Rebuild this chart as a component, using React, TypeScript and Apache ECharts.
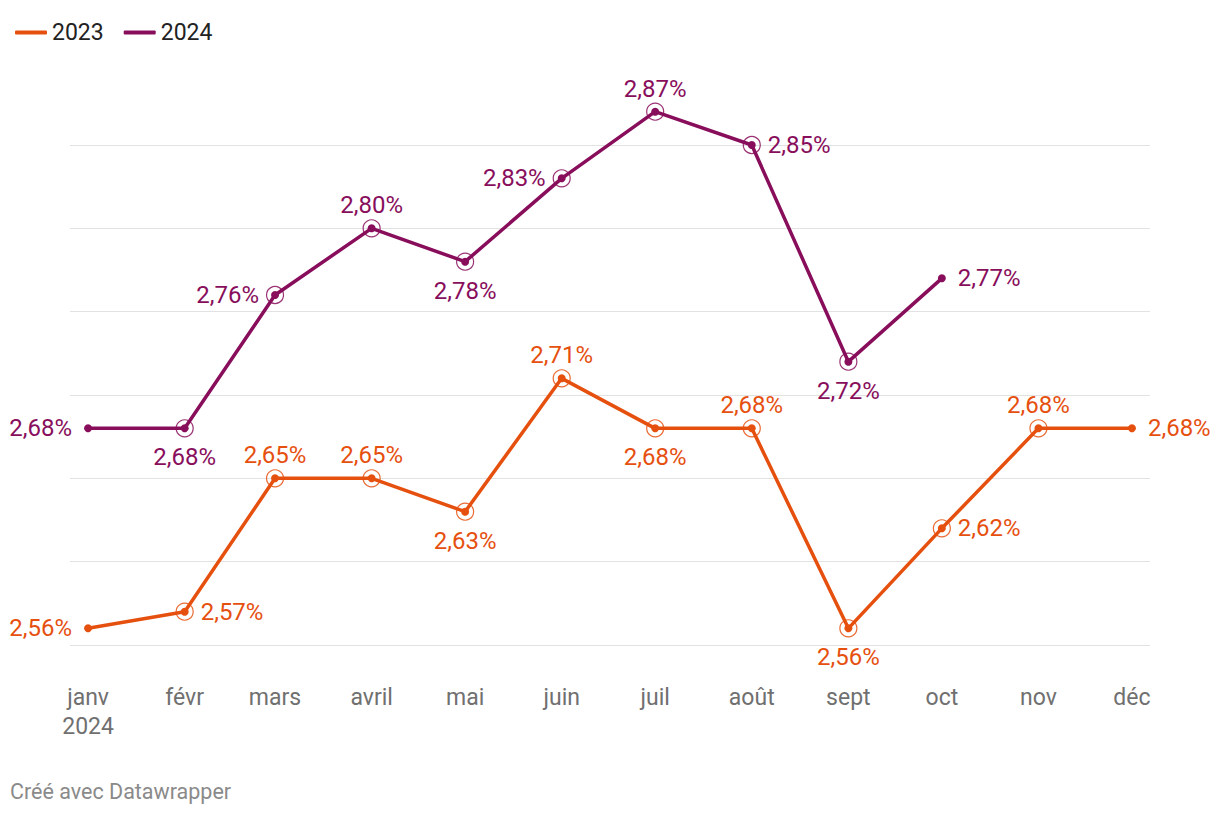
import React, { useEffect, useRef } from "react";
import * as echarts from "echarts";

const monthDates = ["2024-01-01", "2024-02-01", "2024-03-01", "2024-04-01", "2024-05-01", "2024-06-01", "2024-07-01", "2024-08-01", "2024-09-01", "2024-10-01", "2024-11-01", "2024-12-01"];
const monthLabels = ["janv\n2024", "févr", "mars", "avril", "mai", "juin", "juil", "août", "sept", "oct", "nov", "déc"];
const values2023 = [2.56, 2.57, 2.65, 2.65, 2.63, 2.71, 2.68, 2.68, 2.56, 2.62, 2.68, 2.68];
const values2024 = [2.68, 2.68, 2.76, 2.80, 2.78, 2.83, 2.87, 2.85, 2.72, 2.77];
const labelPos2023 = ["left", "right", "top", "top", "bottom", "top", "bottom", "top", "bottom", "right", "top", "right"];
const labelPos2024 = ["left", "bottom", "left", "top", "bottom", "left", "top", "right", "bottom", "right"];

const COLOR_2023 = "#e6500f";
const COLOR_2024 = "#880e5c";
const FONT = "Roboto, 'Noto Sans', sans-serif";
const DIST: Record<string, number> = { top: 7, bottom: 13, left: 12, right: 12 };

const dayOffset = (d: string) => (Date.parse(d + "T00:00:00Z") - Date.parse(monthDates[0] + "T00:00:00Z")) / 86400000;
const days = monthDates.map(dayOffset);
const fmt = (v: number) => v.toFixed(2).replace(".", ",") + "%";

function buildLine(name: string, vals: number[], pos: string[], color: string) {
  return {
    name,
    type: "line",
    clip: false,
    z: 3,
    data: vals.map((v, i) => ({
      value: [days[i], v],
      label: { position: pos[i], distance: DIST[pos[i]] },
    })),
    lineStyle: { color, width: 3.5 },
    itemStyle: { color },
    symbol: "circle",
    symbolSize: 8,
    showAllSymbol: true,
    label: {
      show: true,
      color,
      fontFamily: FONT,
      fontSize: 24,
      formatter: (p: any) => fmt(p.value[1]),
    },
  };
}

function buildRing(name: string, vals: number[], color: string) {
  return {
    name,
    type: "scatter",
    clip: false,
    z: 4,
    silent: true,
    data: vals.map((v, i) => [days[i], v]).filter((_, i) => i > 0 && i < vals.length - 1),
    symbol: "circle",
    symbolSize: 17,
    itemStyle: { color: "rgba(255,255,255,0)", borderColor: color, borderWidth: 1.2, opacity: 0.85 },
  };
}

export default function App() {
  const ref = useRef<HTMLDivElement>(null);
  useEffect(() => {
    if (!ref.current) return;
    const chart = echarts.init(ref.current, undefined, { renderer: "svg" });
    chart.setOption({
      animation: false,
      backgroundColor: "#ffffff",
      textStyle: { fontFamily: FONT },
      legend: {
        data: ["2023", "2024"],
        left: 10,
        top: 16,
        icon: "roundRect",
        itemWidth: 32,
        itemHeight: 4,
        itemGap: 20,
        textStyle: { fontFamily: FONT, fontSize: 23, color: "#222222" },
      },
      grid: { left: 70, right: 70, top: 145, bottom: 171 },
      xAxis: {
        type: "value",
        min: -5.8,
        max: days[days.length - 1] + 5.8,
        axisLine: { show: false },
        axisTick: { show: false },
        splitLine: { show: false },
        axisLabel: {
          customValues: days,
          margin: 38,
          fontFamily: FONT,
          fontSize: 23,
          lineHeight: 29,
          color: "#707070",
          formatter: (v: number) => {
            const idx = days.findIndex((d) => Math.abs(d - v) < 0.01);
            return idx >= 0 ? monthLabels[idx] : "";
          },
        },
      },
      yAxis: {
        type: "value",
        min: 2.55,
        max: 2.85,
        interval: 0.05,
        axisLine: { show: false },
        axisTick: { show: false },
        axisLabel: { show: false },
        splitLine: { lineStyle: { color: "#e2e2e2", width: 1 } },
      },
      series: [
        buildLine("2023", values2023, labelPos2023, COLOR_2023),
        buildLine("2024", values2024, labelPos2024, COLOR_2024),
        buildRing("2023 ring", values2023, COLOR_2023),
        buildRing("2024 ring", values2024, COLOR_2024),
      ],
      graphic: [
        {
          type: "text",
          left: 10,
          top: 780,
          style: { text: "Créé avec Datawrapper", fontFamily: FONT, fontSize: 21.5, fill: "#8a8a8a" },
        },
      ],
    });
    return () => chart.dispose();
  }, []);
  return <div ref={ref} style={{ position: "absolute", left: 0, top: 0, width: 1220, height: 816 }} />;
}
